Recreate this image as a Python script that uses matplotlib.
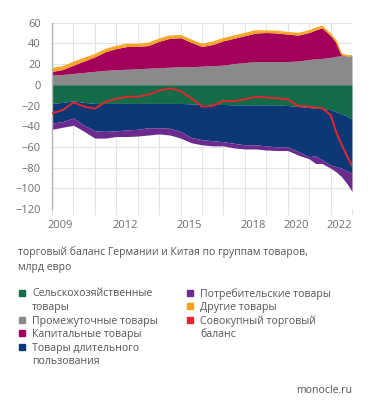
import matplotlib.pyplot as plt
import numpy as np
from matplotlib.patches import Rectangle

plt.rcParams['font.family'] = ['Open Sans', 'DejaVu Sans']

# time points (years)
years = [2009, 2009.5, 2010, 2010.5, 2011, 2011.5, 2012, 2012.5, 2013, 2013.5,
         2014, 2014.5, 2015, 2015.5, 2016, 2016.5, 2017, 2017.5, 2018, 2018.5,
         2019, 2019.5, 2020, 2020.5, 2021, 2021.3, 2021.6, 2022, 2022.25, 2022.5,
         2022.75, 2023]

# positive groups, bn EUR
intermediate = [9.5, 10, 11, 12, 13, 14, 14.5, 15, 15.5, 16,
                16.5, 17, 17.5, 17.5, 18, 18.5, 19, 20.5, 21.5, 22.5,
                22.5, 22.5, 22.5, 23, 24.5, 25, 25.5, 26.5, 27.5, 28,
                28, 28]
capital = [3.4, 4.8, 8, 11, 14, 18, 20.5, 22, 21.5, 22,
           25.5, 28, 28, 23.5, 19, 20.5, 23.5, 24.5, 26, 27.5,
           28, 27.5, 26.5, 25, 26, 28, 29.5, 21, 13.5, 1,
           0, 0]
other = [3, 2.5, 2.5, 2.5, 2, 2, 2, 2, 2, 2,
         2, 2, 2, 2, 2, 2, 2, 2, 2, 2,
         1.5, 1.5, 1.5, 1.5, 1.5, 1.5, 1.5, 1.5, 1.5, 1,
         0, 0]

# negative groups, bn EUR
agricultural = [-18, -17, -15.5, -17, -18, -18, -18, -18, -18, -18,
                -18, -18, -18, -18.5, -19, -19, -19, -19.5, -19.5, -19.5,
                -19.5, -19.5, -20, -21, -22, -22.5, -23, -24, -26, -28,
                -30, -33]
durable = [-19, -18.5, -16.5, -22, -26.5, -27, -26.5, -25.5, -25, -23.5,
           -23.5, -24, -27, -32.5, -34, -35, -36, -37, -38.5, -38.5,
           -39.5, -40.5, -40, -43.5, -47.5, -46, -49.5, -53.5, -53, -52.5,
           -53, -52.5]
consumer = [-6, -5.5, -7, -6, -7, -6.5, -5.5, -6.5, -6.5, -7,
            -6, -6.5, -6.5, -5, -5, -5, -4, -4.5, -4, -4,
            -4, -3.5, -3.5, -3.5, -2, -7.5, -3.5, -3, -5, -8,
            -12, -17.5]

# total trade balance
total = [-27.5, -24.5, -17, -21, -23, -16.5, -13.5, -11.5, -11.5, -9.5,
         -5.5, -3.5, -6, -13, -21, -20.5, -15.5, -15.8, -14, -11.5,
         -12.2, -13, -14, -20.5, -21, -22, -22.5, -29, -45, -57,
         -68, -78]

tick_years = [2009, 2012, 2015, 2018, 2020, 2022]

labels = ['Сельскохозяйственные\nтовары', 'Промежуточные товары', 'Капитальные товары',
          'Товары длительного\nпользования', 'Потребительские товары', 'Другие товары',
          'Совокупный торговый\nбаланс']
c_agri = '#136b47'
c_inter = '#8a8a8a'
c_cap = '#a3005b'
c_dur = '#0b3874'
c_cons = '#6a2a8e'
c_other = '#f4a11c'
c_total = '#e4262e'

W, H = 371, 411
fig = plt.figure(figsize=(W / 100, H / 100), dpi=100)
ax = fig.add_axes([52 / W, 1 - 209 / H, 300 / W, (209 - 22.7) / H])

x = np.array(years)
g = np.array(intermediate)
c = g + np.array(capital)
o = c + np.array(other)
a = np.array(agricultural)
d = a + np.array(durable)
p = d + np.array(consumer)

ax.fill_between(x, 0, g, color=c_inter, lw=0, zorder=2)
ax.fill_between(x, g, c, color=c_cap, lw=0, zorder=2)
ax.fill_between(x, c, o, color=c_other, lw=0, zorder=2)
ax.plot(x, o, color=c_other, lw=1, zorder=2)
ax.fill_between(x, 0, a, color=c_agri, lw=0, zorder=2)
ax.fill_between(x, a, d, color=c_dur, lw=0, zorder=2)
ax.fill_between(x, d, p, color=c_cons, lw=0, zorder=2)
ax.plot(x, total, color=c_total, lw=1.4, zorder=3)

ax.set_xlim(2009, 2023)
ax.set_ylim(-120, 60)
ax.set_yticks(range(-120, 61, 20))
ax.set_xticks(range(2009, 2024))
ax.set_xticklabels([])
ax.set_xticks([yr + 0.4 for yr in tick_years], minor=True)
ax.set_xticklabels([str(yr) for yr in tick_years], minor=True)
ax.tick_params(axis='x', which='major', length=4, color='#e3e3e3', width=0.8)
ax.tick_params(axis='x', which='minor', length=0, pad=8, labelsize=8, labelcolor='#6e6e6e')
ax.tick_params(axis='y', length=0, pad=8, labelsize=8, labelcolor='#6e6e6e')
ax.grid(True, which='major', color='#e3e3e3', lw=0.8, zorder=0)
ax.set_axisbelow(True)
for s in ['top', 'right', 'bottom']:
    ax.spines[s].set_visible(False)
ax.spines['left'].set_color('#b5b5b5')
ax.spines['left'].set_linewidth(1)

# caption
fig.text(18 / W, 1 - 255 / H, 'торговый баланс Германии и Китая по группам товаров,',
         fontsize=7.5, color='#555555', va='baseline', ha='left')
fig.text(18 / W, 1 - 269.5 / H, 'млрд евро',
         fontsize=7.5, color='#555555', va='baseline', ha='left')

# legend, one text per line so squares sit on the first line
colors = [c_agri, c_inter, c_cap, c_dur, c_cons, c_other, c_total]
rows = [293, 320, 333, 347, 293, 306, 320]
cols = [19, 19, 19, 19, 187, 187, 187]
for lab, col, ry, cx in zip(labels, colors, rows, cols):
    fig.patches.append(Rectangle((cx / W, 1 - (ry + 3) / H), 6 / W, 6 / H,
                                 transform=fig.transFigure, color=col, figure=fig))
    for i, line in enumerate(lab.split('\n')):
        fig.text((cx + 13) / W, 1 - (ry + 3.5 + i * 13.5) / H, line, fontsize=7.6,
                 color='#555555', va='baseline', ha='left')

fig.text(352 / W, 1 - 393 / H, 'monocle.ru', fontsize=7.6, color='#555555',
         ha='right', va='baseline')

fig.savefig('out.png', dpi=100)
